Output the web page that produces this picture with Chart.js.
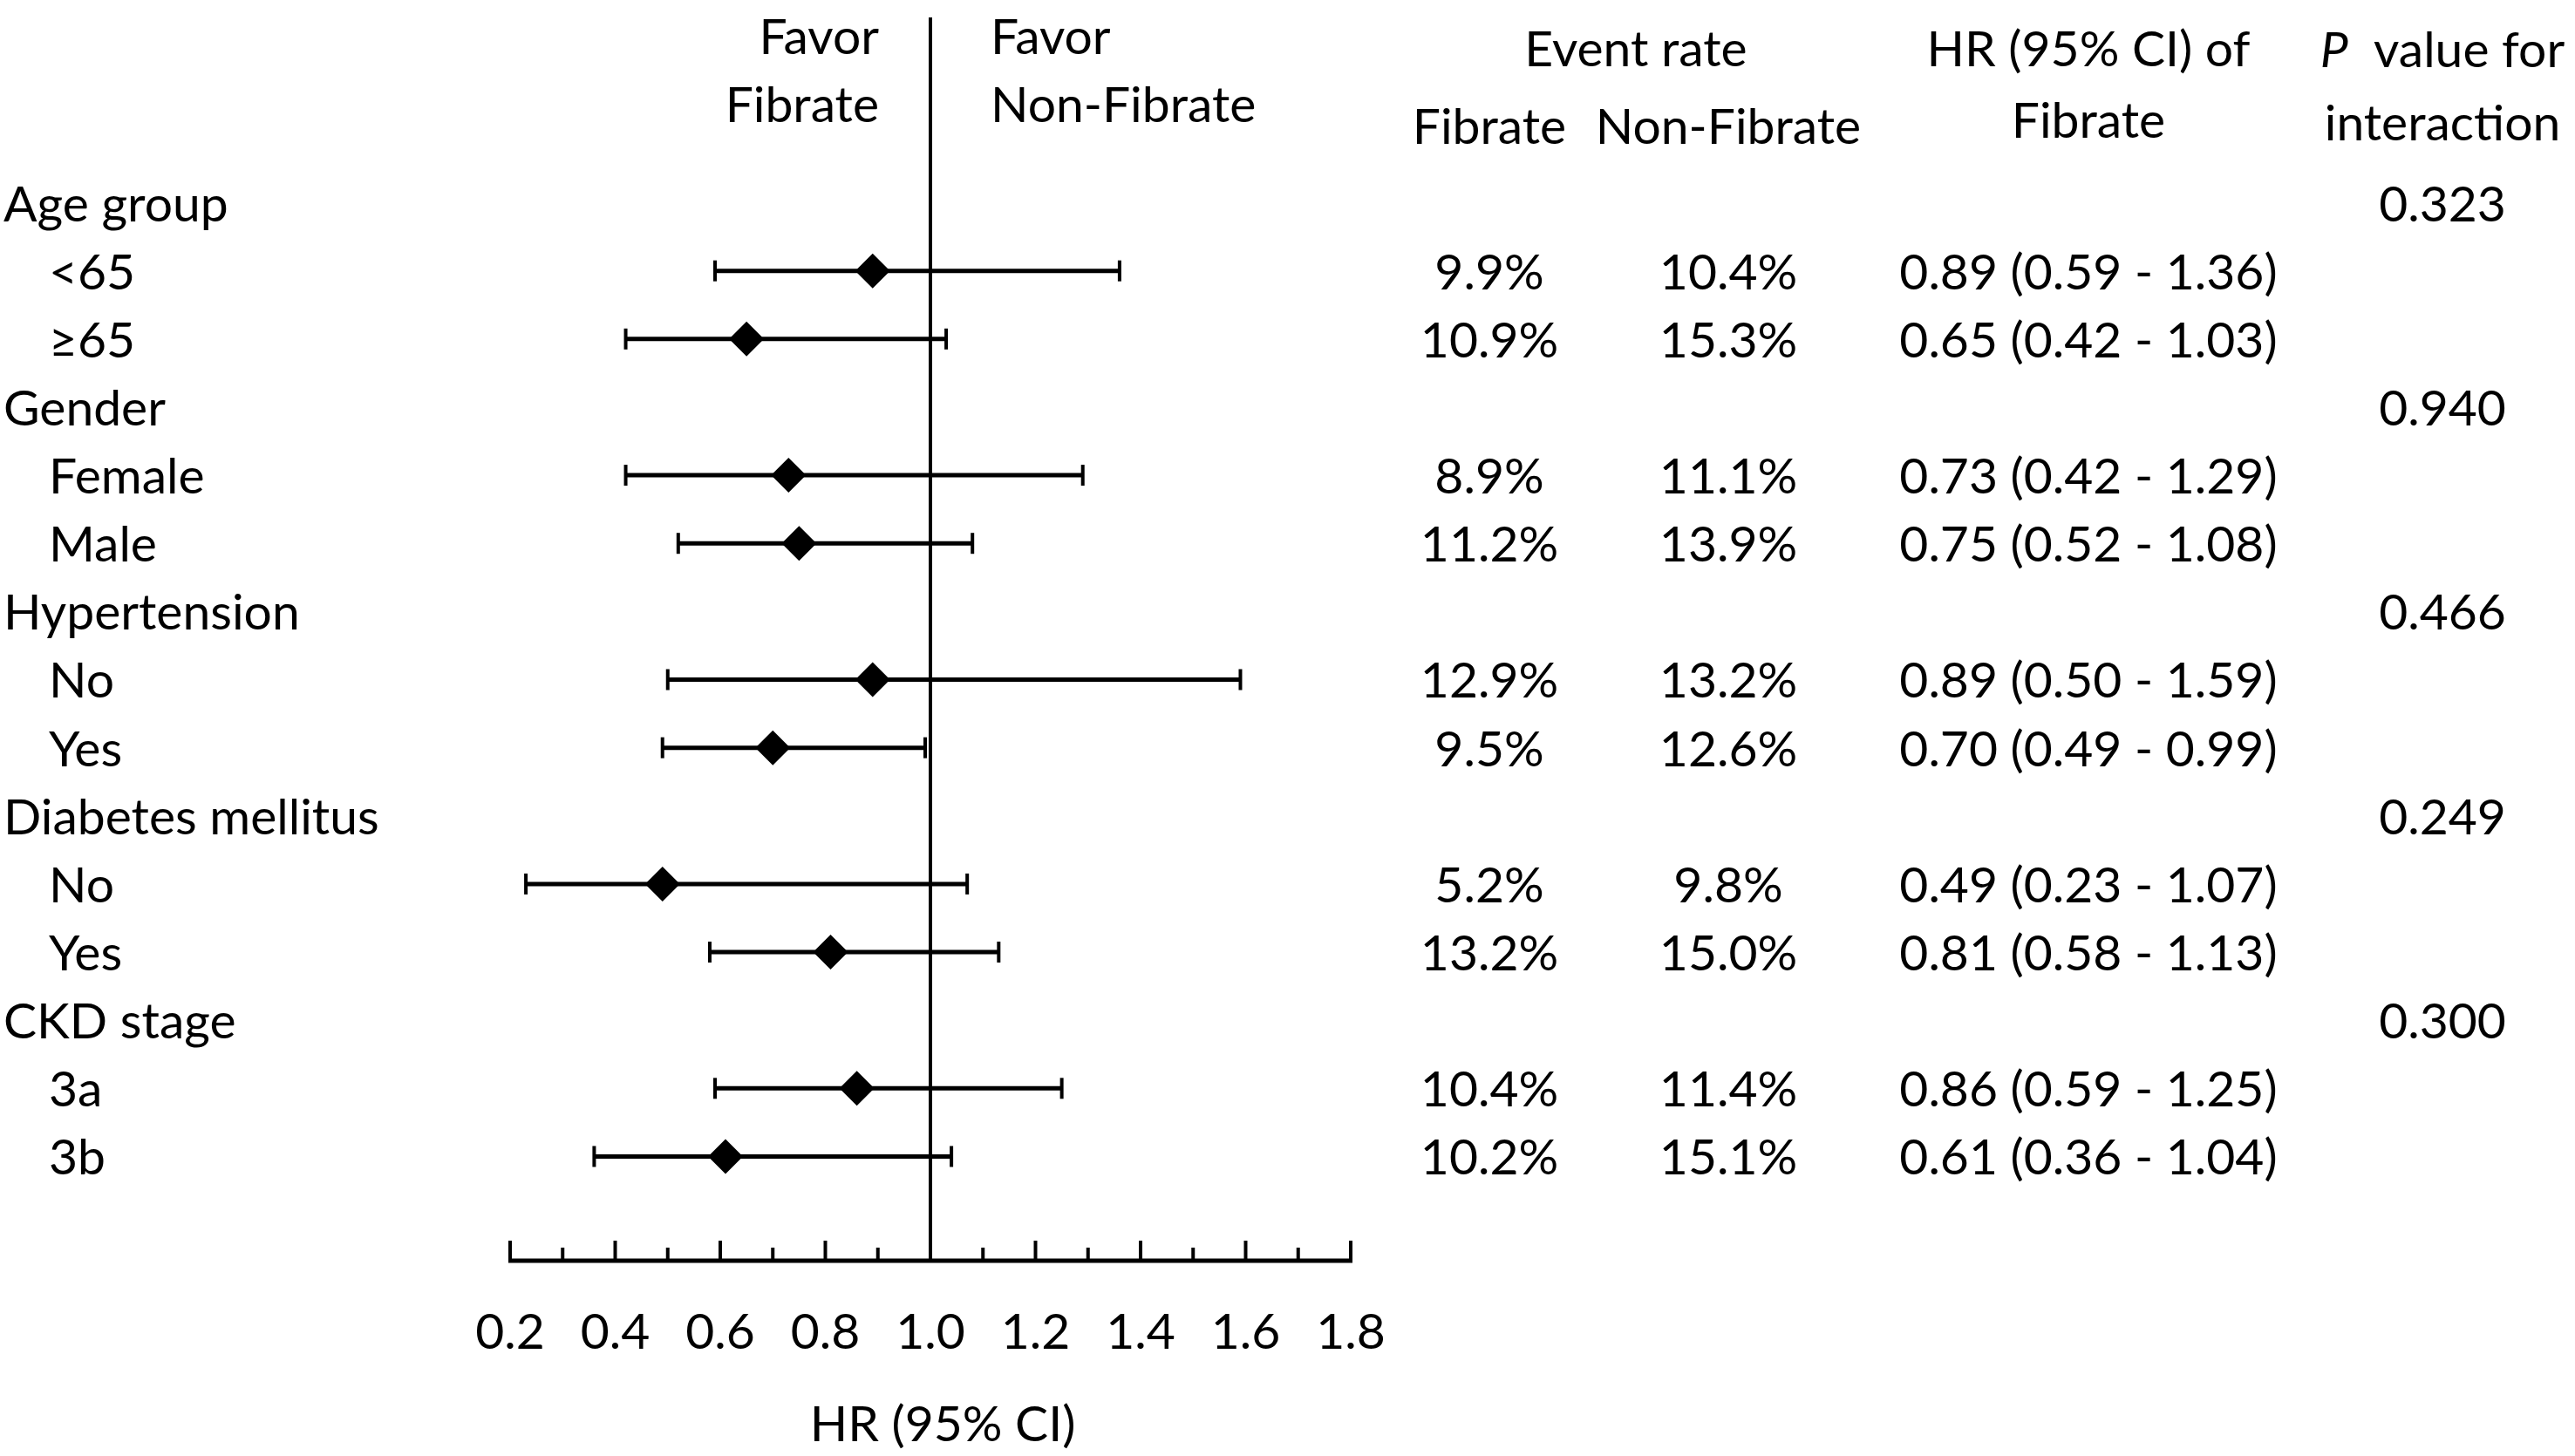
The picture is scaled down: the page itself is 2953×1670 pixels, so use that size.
<!DOCTYPE html>
<html>
<head>
<meta charset="utf-8">
<script src="https://cdn.jsdelivr.net/npm/chart.js@4.4.1/dist/chart.umd.min.js"></script>
<style>
html, body { margin: 0; padding: 0; background: #fff; }
#wrap { width: 2953px; height: 1670px; position: relative; }
</style>
</head>
<body>
<div id="wrap"><canvas id="forest"></canvas></div>
<script>
// rows, top to bottom
const rowLabels = ['Age group', '<65', '≥65', 'Gender', 'Female', 'Male', 'Hypertension', 'No', 'Yes',
  'Diabetes mellitus', 'No', 'Yes', 'CKD stage', '3a', '3b'];
const isGroup = [true, false, false, true, false, false, true, false, false, true, false, false, true, false, false];

const hr     = [null, 0.89, 0.65, null, 0.73, 0.75, null, 0.89, 0.70, null, 0.49, 0.81, null, 0.86, 0.61];
const ciLow  = [null, 0.59, 0.42, null, 0.42, 0.52, null, 0.50, 0.49, null, 0.23, 0.58, null, 0.59, 0.36];
const ciHigh = [null, 1.36, 1.03, null, 1.29, 1.08, null, 1.59, 0.99, null, 1.07, 1.13, null, 1.25, 1.04];

const rateFibrate    = ['', '9.9%', '10.9%', '', '8.9%', '11.2%', '', '12.9%', '9.5%', '', '5.2%', '13.2%', '', '10.4%', '10.2%'];
const rateNonFibrate = ['', '10.4%', '15.3%', '', '11.1%', '13.9%', '', '13.2%', '12.6%', '', '9.8%', '15.0%', '', '11.4%', '15.1%'];
const pInteraction   = ['0.323', '', '', '0.940', '', '', '0.466', '', '', '0.249', '', '', '0.300', '', ''];

const tickLabels = ['0.2', '0.4', '0.6', '0.8', '1.0', '1.2', '1.4', '1.6', '1.8'];

const FONT = '57px Lato';
const BASE = 21; // baseline offset below row centre

const diamondData = [];
const ciSets = [];
rowLabels.forEach((_, i) => {
  if (hr[i] === null) return;
  diamondData.push({ x: hr[i], y: i });
  ciSets.push({
    type: 'scatter',
    data: [{ x: ciLow[i], y: i }, { x: ciHigh[i], y: i }],
    showLine: true,
    borderColor: '#000',
    borderWidth: 5,
    pointStyle: 'line',
    rotation: 90,
    pointRadius: 12,
    pointBorderWidth: 4,
    pointBorderColor: '#000'
  });
});

const hrText = hr.map((v, i) => v === null ? '' :
  v.toFixed(2) + ' (' + ciLow[i].toFixed(2) + ' - ' + ciHigh[i].toFixed(2) + ')');

const decor = {
  id: 'decor',
  beforeDatasetsDraw(chart) {
    const { ctx, chartArea, scales: { x } } = chart;
    const axisY = chartArea.bottom;
    ctx.save();
    ctx.strokeStyle = '#000';
    // reference line at HR = 1
    ctx.lineWidth = 4;
    const x1 = x.getPixelForValue(1);
    ctx.beginPath();
    ctx.moveTo(x1, chartArea.top);
    ctx.lineTo(x1, axisY);
    ctx.stroke();
    // x axis with ticks pointing up
    const vals = tickLabels.map(Number);
    ctx.lineWidth = 5;
    ctx.beginPath();
    ctx.moveTo(x.getPixelForValue(vals[0]) - 2, axisY);
    ctx.lineTo(x.getPixelForValue(vals[vals.length - 1]) + 2, axisY);
    ctx.stroke();
    ctx.lineWidth = 4;
    vals.forEach((v, k) => {
      const px = x.getPixelForValue(v);
      ctx.beginPath();
      ctx.moveTo(px, axisY);
      ctx.lineTo(px, axisY - 23);
      ctx.stroke();
      if (k < vals.length - 1) {
        const pm = x.getPixelForValue((v + vals[k + 1]) / 2);
        ctx.beginPath();
        ctx.moveTo(pm, axisY);
        ctx.lineTo(pm, axisY - 15);
        ctx.stroke();
      }
    });
    ctx.restore();
  },
  afterDraw(chart) {
    const { ctx, chartArea, scales: { x, y } } = chart;
    ctx.save();
    ctx.fillStyle = '#000';
    ctx.font = FONT;
    ctx.textBaseline = 'alphabetic';

    // tick labels and axis title
    ctx.textAlign = 'center';
    tickLabels.forEach(t => ctx.fillText(t, x.getPixelForValue(Number(t)), chartArea.bottom + 101));
    ctx.fillText('HR (95% CI)', x.getPixelForValue(1) + 14, chartArea.bottom + 207);

    // favour labels
    const x1 = x.getPixelForValue(1);
    ctx.textAlign = 'right';
    ctx.fillText('Favor', x1 - 59, 62);
    ctx.fillText('Fibrate', x1 - 59, 140);
    ctx.textAlign = 'left';
    ctx.fillText('Favor', x1 + 69, 62);
    ctx.fillText('Non-Fibrate', x1 + 69, 140);

    // column headers
    const cF = 1708, cN = 1982, cH = 2395, cP = 2801;
    ctx.textAlign = 'center';
    ctx.fillText('Event rate', 1876, 76);
    ctx.fillText('Fibrate', cF, 165);
    ctx.fillText('Non-Fibrate', cN, 165);
    ctx.fillText('HR (95% CI) of', cH, 76);
    ctx.fillText('Fibrate', cH, 158);
    ctx.fillText('interaction', cP, 161);
    ctx.font = 'italic ' + FONT;
    const wP = ctx.measureText('P').width;
    ctx.font = FONT;
    const rest = '  value for';
    const wR = ctx.measureText(rest).width;
    const sx = cP - (wP + wR) / 2;
    ctx.textAlign = 'left';
    ctx.font = 'italic ' + FONT;
    ctx.fillText('P', sx, 77);
    ctx.font = FONT;
    ctx.fillText(rest, sx + wP, 77);

    // rows
    rowLabels.forEach((lab, i) => {
      const py = y.getPixelForValue(i) + BASE;
      ctx.textAlign = 'left';
      ctx.fillText(lab, isGroup[i] ? 4 : 56, py);
      ctx.textAlign = 'center';
      if (rateFibrate[i]) ctx.fillText(rateFibrate[i], cF, py);
      if (rateNonFibrate[i]) ctx.fillText(rateNonFibrate[i], cN, py);
      if (hrText[i]) ctx.fillText(hrText[i], cH, py);
      if (pInteraction[i]) ctx.fillText(pInteraction[i], cP, py);
    });
    ctx.restore();
  }
};

new Chart(document.getElementById('forest'), {
  type: 'scatter',
  data: {
    datasets: [{
      data: diamondData,
      pointStyle: 'rectRot',
      pointRadius: 20,
      backgroundColor: '#000',
      borderColor: '#000',
      borderWidth: 0
    }, ...ciSets]
  },
  options: {
    responsive: true,
    maintainAspectRatio: false,
    animation: false,
    events: [],
    layout: { padding: { left: 585, right: 1404, top: 8, bottom: 224 } },
    plugins: { legend: { display: false }, tooltip: { enabled: false } },
    scales: {
      x: { type: 'linear', min: 0.2, max: 1.8, display: false },
      y: { type: 'linear', min: -2.72, max: 15.53, reverse: true, display: false }
    }
  },
  plugins: [decor]
});
</script>
</body>
</html>
